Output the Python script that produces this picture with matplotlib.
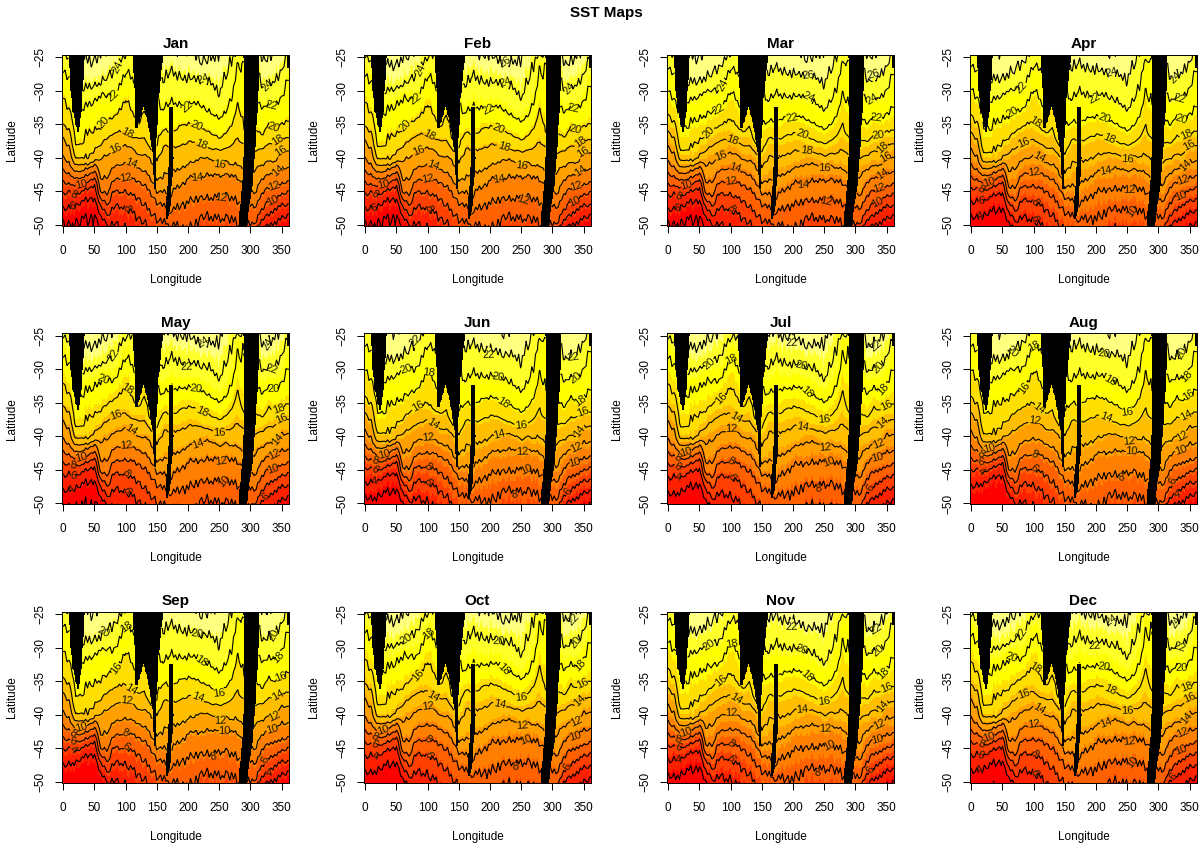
import matplotlib
matplotlib.use("Agg")
import matplotlib.pyplot as plt
import numpy as np
from matplotlib.colors import ListedColormap, hsv_to_rgb

plt.rcParams['font.family'] = ['Liberation Sans', 'DejaVu Sans']

months = ["Jan", "Feb", "Mar", "Apr", "May", "Jun", "Jul", "Aug", "Sep", "Oct", "Nov", "Dec"]

# longitudes of the columns below
lons = list(range(0, 370, 10))

# latitude of each isotherm in January
iso_28 = [-20] * 37
iso_26 = [-23, -23, -23, -24.5, -25.8, -25.5, -24.5, -24, -23, -23, -23, -23, -23, -23, -23, -23, -23, -23, -24, -24, -24, -24.5, -25.5, -25.5, -25, -24, -23, -23, -23, -23, -23, -23, -25.5, -25, -24, -23, -23]
iso_24 = [-24.5, -25, -27, -29.7, -29.5, -29.3, -29, -28, -27.3, -26, -24.5, -24, -24, -24, -24, -24, -29, -27, -27.5, -28, -28.3, -28, -28.5, -28.5, -29, -30.5, -28, -25, -24.5, -24.5, -25, -25.5, -29.5, -29, -28.5, -27, -24.5]
iso_22 = [-27, -28, -31, -32.5, -32, -31.5, -30.5, -30.5, -31, -29.5, -27, -28, -30, -30, -30, -30, -33, -31.5, -32, -32, -32, -31.7, -32, -33, -33.5, -34, -33.5, -31, -26, -26, -26, -31, -32.5, -32, -32, -31, -28]
iso_20 = [-31, -33, -38, -38, -36, -36, -35.5, -34.5, -34, -33, -31, -33, -35, -33, -37, -38, -36, -36, -36, -35, -35, -35, -35.5, -36, -36.5, -37, -36.5, -35, -32, -36, -36, -36, -36.5, -35, -35.5, -35, -34.5]
iso_18 = [-35, -36, -40, -40, -40, -39, -38, -37, -36.5, -36, -36, -37, -37, -37, -38.5, -40, -38.5, -38, -38.5, -38, -37.7, -37.5, -38, -38.5, -38.7, -38.7, -38.7, -38, -37, -38, -39, -39, -38.5, -38, -37.5, -37, -37]
iso_16 = [-37, -38.5, -41, -41, -41, -40.5, -40, -39.5, -39, -38.5, -38, -38.5, -39.5, -39.5, -40, -43, -43, -42, -42, -41.5, -41, -40.5, -40, -40, -40.3, -41, -40.5, -41, -41, -42, -42, -41.5, -41, -40.5, -40.5, -39, -39]
iso_14 = [-39.8, -41, -42, -42, -41.5, -41, -43, -43, -41.5, -41, -40.8, -41, -41.5, -42, -43, -45, -45, -46, -44.5, -44, -43, -42.5, -43, -42.5, -42.5, -42.5, -42.5, -42.5, -43, -44, -45, -45, -43, -42.5, -42, -41.5, -41.5]
iso_12 = [-41.8, -42.5, -43, -43, -42.5, -42, -45, -45.5, -43.5, -43, -43, -43, -43.5, -44, -45, -46.5, -47, -48, -47.5, -47, -46.5, -46, -46, -46, -46, -45.5, -45.5, -46, -46.5, -47, -47, -47, -45, -44.5, -44, -44, -43.5]
iso_10 = [-43.5, -44, -44, -44, -43.5, -43, -46, -47, -45, -45, -45, -45.5, -46, -47, -48, -49, -49.5, -50, -50, -50.5, -50.5, -50, -49, -48.5, -49, -48.8, -49, -49, -50, -50, -50, -49.5, -47.5, -46.5, -46, -45.5, -45]
iso_8 = [-45.3, -45, -45.5, -45, -44.5, -44, -47, -48.5, -47.5, -47, -47.5, -48, -49, -49.5, -51, -52, -52, -52, -52, -52, -52, -52, -52, -52, -52, -52, -52, -52, -52, -52, -51, -50.5, -49, -48.5, -47.5, -47, -47]
iso_6 = [-47.5, -47.5, -47, -46.5, -46, -46, -48.5, -50, -50, -50, -50.5, -51, -52, -52.5, -53, -53, -53, -53, -53, -53, -53, -53, -53, -53, -53, -53, -53, -53, -53, -53, -53, -52, -50.5, -50, -49.5, -49, -48.5]
iso_4 = [-49.5, -50, -49.5, -49, -49, -48.5, -50, -51, -52, -52, -53, -53, -54, -54, -54, -54, -54, -54, -54, -54, -54, -54, -54, -54, -54, -54, -54, -54, -54, -54, -54, -54, -53, -52, -52, -51, -50.5]
iso_2 = [-55] * 37

iso_temps = [28, 26, 24, 22, 20, 18, 16, 14, 12, 10, 8, 6, 4, 2]
iso_lats = [iso_28, iso_26, iso_24, iso_22, iso_20, iso_18, iso_16, iso_14, iso_12, iso_10, iso_8, iso_6, iso_4, iso_2]

# small zigzag of the isotherms, every 3 degrees of longitude, north and south part
rough_lons = list(range(0, 363, 3))
rough_north = [0.2, -0.3, 0.4, 0.1, -0.4, 0.3, -0.2, 0.5, -0.1, -0.5, 0.3, 0.4, -0.3, 0.1, -0.4, 0.5, 0.0, -0.3, 0.4, -0.2, 0.3, -0.5, 0.2, 0.4, -0.1, -0.4, 0.5, -0.2, 0.1, 0.4, -0.5, 0.2, -0.3, 0.5, 0.1, -0.4,
               0.3, -0.1, 0.4, -0.5, 0.2, 0.5, -0.3, -0.1, 0.4, -0.4, 0.3, 0.1, -0.5, 0.4, 0.0, -0.3, 0.5, -0.2, 0.2, -0.4, 0.4, 0.1, -0.5, 0.3, -0.2, 0.5, -0.4, 0.1, 0.3, -0.3, 0.4, -0.5, 0.2, 0.1, -0.2, 0.4,
               -0.4, 0.3, 0.5, -0.3, 0.0, 0.4, -0.5, 0.2, -0.1, 0.4, -0.3, 0.5, -0.2, 0.1, -0.5, 0.3, 0.2, -0.4, 0.5, -0.1, 0.3, -0.4, 0.2, 0.4, -0.5, 0.1, -0.2, 0.5, -0.3, 0.3, 0.0, -0.4, 0.4, -0.2, 0.5, -0.3,
               0.1, 0.3, -0.5, 0.4, -0.1, 0.2, -0.4, 0.5, -0.2, 0.1, 0.3, -0.4, 0.2]
rough_south = [-0.3, 0.4, 0.1, -0.5, 0.3, -0.1, 0.5, -0.4, 0.2, 0.4, -0.3, 0.0, -0.5, 0.4, 0.2, -0.3, 0.5, -0.2, -0.4, 0.3, 0.1, 0.5, -0.4, -0.1, 0.3, 0.4, -0.5, 0.2, -0.2, -0.4, 0.5, 0.1, 0.3, -0.5, 0.2, 0.4,
               -0.3, 0.1, -0.4, 0.5, -0.1, -0.3, 0.4, 0.2, -0.5, 0.3, -0.2, 0.4, 0.1, -0.4, 0.5, 0.2, -0.3, 0.3, -0.5, 0.1, -0.1, 0.4, 0.3, -0.4, 0.2, -0.5, 0.4, 0.0, -0.3, 0.5, -0.2, 0.3, -0.4, 0.1, 0.4, -0.3,
               0.5, -0.2, -0.4, 0.3, 0.1, -0.5, 0.4, -0.1, 0.3, -0.4, 0.2, -0.3, 0.5, 0.1, 0.3, -0.4, -0.2, 0.5, -0.3, 0.2, -0.5, 0.4, 0.0, -0.3, 0.4, -0.1, 0.3, -0.5, 0.2, -0.2, 0.4, 0.3, -0.4, 0.1, -0.3, 0.5,
               -0.2, -0.4, 0.3, -0.3, 0.4, -0.1, 0.5, -0.3, 0.2, -0.4, 0.1, 0.4, -0.2]

# how far each month sits from January, near -25, -37 and -50
shift_north = [0, 0.3, 1.8, -0.6, -1.5, -2.5, -3.4, -4.5, -4.3, -3.8, -3, -1.5]
shift_mid = [0, 0.3, 1, -0.8, -1.5, -2.5, -3.5, -4.5, -4.3, -3.6, -3, -1.5]
shift_south = [0, 0, 0, -0.8, -1.5, -2.5, -3, -4, -4, -3, -2.5, -1.2]

# land outlines: latitude, west edge, east edge
africa = [(-25, 9, 34), (-30, 12, 31), (-33, 15, 29), (-35, 20, 27), (-36, 23, 24)]
aus_west = [(-25, 112, 135), (-32, 115, 130), (-35.5, 116, 119)]
aus_east = [(-25, 135, 160), (-32, 128, 152), (-35, 136, 151), (-39, 143, 149), (-44.5, 146, 148)]
new_zealand = [(-33.5, 170, 176), (-40, 170, 177), (-47, 165, 172), (-49, 166, 168)]
south_america = [(-25, 289, 313), (-30, 291, 313), (-35, 291, 310), (-40, 289, 307), (-45, 286, 302), (-48, 283, 297), (-50.5, 283, 294)]
date_edge = [(-25, 359, 363), (-26.5, 360, 363)]
land = [africa, aus_west, aus_east, new_zealand, south_america, date_edge]

# longitudes where each contour carries its label
label_lons = {26: [225, 330], 24: [88, 225, 328], 22: [81, 198, 334], 20: [65, 214, 337], 18: [102, 221, 345],
              16: [85, 250, 350], 14: [108, 215, 345], 12: [100, 253, 339], 10: [30, 258, 335], 8: [100, 240, 15],
              6: [15, 100, 325], 4: [15, 330]}

x = np.arange(-2, 363, 1.0)
y = np.arange(-50.25, -24.5, 0.25)

# January field, column by column from the isotherms
iso_table = np.array(iso_lats)
col_temp = np.zeros((len(y), len(lons)))
for j in range(len(lons)):
    col_temp[:, j] = np.interp(y, iso_table[::-1, j], iso_temps[::-1])
jan = np.zeros((len(y), len(x)))
north_part = np.interp(y, [-50, -25], [0, 1])
for i in range(len(y)):
    jan[i, :] = np.interp(x, lons, col_temp[i, :])
    jan[i, :] += north_part[i] * np.interp(x, rough_lons, rough_north) + (1 - north_part[i]) * np.interp(x, rough_lons, rough_south)

land_mask = np.zeros(jan.shape, dtype=bool)
for shape in land:
    rows = np.array(shape)
    for i, lat in enumerate(y):
        if lat > rows[0, 0] + 1 or lat < rows[-1, 0]:
            continue
        west = np.interp(lat, rows[::-1, 0], rows[::-1, 1])
        east = np.interp(lat, rows[::-1, 0], rows[::-1, 2])
        land_mask[i, (x >= west) & (x <= east)] = True

# same as R heat.colors(12)
n_red = 9
n_pale = 3
cols = [hsv_to_rgb((h, 1, 1)) for h in np.linspace(0, 1 / 6, n_red)]
cols += [hsv_to_rgb((1 / 6, s, 1)) for s in np.linspace(1 - 1 / (2 * n_pale), 1 / (2 * n_pale), n_pale)]
heat = ListedColormap(cols)
heat.set_bad("black")

fig = plt.figure(figsize=(12.01, 8.46), dpi=100)
W = 1201.0
H = 846.0
col_left = [62, 364, 667, 970]
row_top = [55, 333.5, 612]

fig.text(606 / W, 1 - 13 / H, "SST Maps", ha="center", va="center", fontsize=11, fontweight="bold")

for m in range(12):
    left = col_left[m % 4]
    top = row_top[m // 4]
    ax = fig.add_axes([left / W, 1 - (top + 171) / H, 227 / W, 171 / H])
    offs = np.interp(y, [-50, -37, -25], [shift_south[m], shift_mid[m], shift_north[m]])
    field = jan + offs[:, None]
    field = np.ma.array(field, mask=land_mask)
    ax.pcolormesh(x, y, field, cmap=heat, shading="nearest", vmin=field.min(), vmax=field.max() + 2)
    ax.set_facecolor("black")
    cs = ax.contour(x, y, field, levels=list(range(2, 30, 2)), colors="black", linewidths=0.8)

    spots = []
    for lev in label_lons:
        for lon in label_lons[lev]:
            k = np.argmin(np.abs(x - lon))
            column = field[:, k]
            for i in range(len(y) - 1):
                if column[i] is np.ma.masked or column[i + 1] is np.ma.masked:
                    continue
                if (column[i] - lev) * (column[i + 1] - lev) <= 0 and -49.5 < y[i] < -25.5:
                    spots.append((lon, y[i]))
                    break
    if spots:
        ax.clabel(cs, fmt="%d", fontsize=8, inline=True, inline_spacing=1, manual=spots, colors="#1a1a00")

    ax.set_xlim(-2, 362)
    ax.set_ylim(-50.15, -24.7)
    ax.set_xticks([0, 50, 100, 150, 200, 250, 300, 350])
    ax.set_yticks([-25, -30, -35, -40, -45, -50])
    ax.tick_params(axis="x", labelsize=8.5, length=5, width=0.7, pad=8.5)
    ax.tick_params(axis="y", labelsize=8.5, length=5, width=0.7, pad=6)
    for t in ax.get_yticklabels():
        t.set_rotation(90)
        t.set_va("center")
    for s in ax.spines.values():
        s.set_linewidth(0.7)
    ax.set_title(months[m], fontsize=11, fontweight="bold", pad=5)
    ax.set_xlabel("Longitude", fontsize=8.5)
    ax.set_ylabel("Latitude", fontsize=8.5)
    ax.xaxis.set_label_coords(0.5, -48 / 171)
    ax.yaxis.set_label_coords(-44 / 227, 0.5)

fig.savefig("out.png", dpi=100)
